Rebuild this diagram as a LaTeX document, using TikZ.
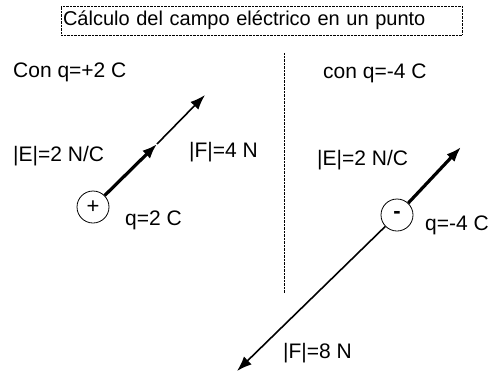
\documentclass[tikz,border=0pt]{standalone}
\usepackage{fontspec}
\setmainfont{Liberation Sans}
\usetikzlibrary{arrows.meta}

\tikzset{
    lbl/.style={anchor=west, inner sep=0pt, font=\fontsize{21}{25}\selectfont},
    charge/.style={circle, draw, thick, minimum size=32pt, inner sep=0pt, font=\fontsize{22}{24}\selectfont},
    efield/.style={line width=3.2pt, -{Latex[length=15pt, width=11pt]}},
    force/.style={line width=1.6pt, -{Latex[length=15pt, width=11pt]}}
}

\begin{document}
\begin{tikzpicture}[x=1pt, y=-1pt]
    \useasboundingbox (0,0) rectangle (497,372);

    % Title
    \node[draw, densely dotted, thin, minimum height=29pt, text width=397pt, inner xsep=2pt, align=left,
          font=\fontsize{20}{24}\selectfont] (title) at (261.5,20.5) {Cálculo del campo eléctrico en un punto};

    % Divider
    \coordinate (divtop) at (284,53);
    \coordinate (divbot) at (284,293);
    \draw[densely dotted, thin] (divtop) -- (divbot);

    % Positive charge
    \node[lbl] (conpos) at (13,72) {Con q=+2 C};
    \node[charge] (qpos) at (93,207) {+};
    \coordinate (Etippos) at (157,144);
    \coordinate (Ftippos) at (205,95);
    \draw[efield] (qpos) -- (Etippos);
    \draw[force] (Etippos) -- (Ftippos);
    \node[lbl] (Epos) at (13,156) {|E|=2 N/C};
    \node[lbl] (Fpos) at (189,152) {|F|=4 N};
    \node[lbl] (qposlbl) at (125,220) {q=2 C};

    % Negative charge
    \node[lbl] (conneg) at (323,73) {con q=-4 C};
    \node[charge] (qneg) at (397,215) {\textbf{-}};
    \coordinate (Etipneg) at (461,147);
    \coordinate (Ftipneg) at (237,371);
    \draw[efield] (qneg) -- (Etipneg);
    \draw[force] (qneg) -- (Ftipneg);
    \node[lbl] (Eneg) at (317,160) {|E|=2 N/C};
    \node[lbl] (qneglbl) at (425,225) {q=-4 C};
    \node[lbl] (Fneg) at (283,353) {|F|=8 N};
\end{tikzpicture}
\end{document}
